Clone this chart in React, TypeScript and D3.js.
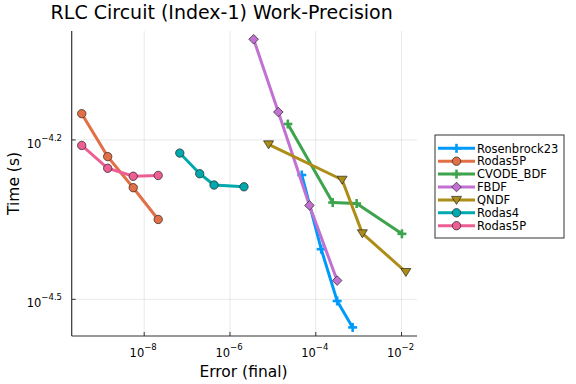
import * as d3 from "d3"

const W = 576
const H = 384
const PLOT = { left: 71.7, right: 417, top: 31, bottom: 336 }

const seriesNames = ["Rosenbrock23", "Rodas5P", "CVODE_BDF", "FBDF", "QNDF", "Rodas4", "Rodas5P"]
const seriesColors = ["#009afa", "#e26f46", "#3da44d", "#c271d2", "#ac8d18", "#00a9ad", "#ed5e93"]
const seriesMarkers = ["cross", "circle", "cross", "diamond", "dtriangle", "circle", "circle"]

// error (final), time (s)
const rosenbrockErr = [4.72e-5, 1.34e-4, 3.15e-4, 7.24e-4]
const rosenbrockTime = [5.42e-5, 3.93e-5, 3.14e-5, 2.8e-5]
const rodas5pErr = [3.5e-10, 1.41e-9, 5.55e-9, 2.12e-8]
const rodas5pTime = [7.07e-5, 5.87e-5, 5.13e-5, 4.47e-5]
const cvodeErr = [2.23e-5, 2.48e-4, 8.97e-4, 1.02e-2]
const cvodeTime = [6.76e-5, 4.81e-5, 4.79e-5, 4.2e-5]
const fbdfErr = [3.56e-6, 1.34e-5, 7.13e-5, 3.15e-4]
const fbdfTime = [9.76e-5, 7.12e-5, 4.75e-5, 3.43e-5]
const qndfErr = [7.94e-6, 4.11e-4, 1.22e-3, 1.26e-2]
const qndfTime = [6.19e-5, 5.31e-5, 4.21e-5, 3.56e-5]
const rodas4Err = [6.76e-8, 1.97e-7, 4.25e-7, 2.12e-6]
const rodas4Time = [5.96e-5, 5.45e-5, 5.19e-5, 5.15e-5]
const rodas5p2Err = [3.5e-10, 1.41e-9, 5.55e-9, 2.12e-8]
const rodas5p2Time = [6.16e-5, 5.58e-5, 5.39e-5, 5.41e-5]

const errs = [rosenbrockErr, rodas5pErr, cvodeErr, fbdfErr, qndfErr, rodas4Err, rodas5p2Err]
const times = [rosenbrockTime, rodas5pTime, cvodeTime, fbdfTime, qndfTime, rodas4Time, rodas5p2Time]

const xTickExps = ["-8", "-6", "-4", "-2"]
const yTickExps = ["-4.5", "-4.2"]

const FONT = "DejaVu Sans, sans-serif"

const Marker = ({ type, x, y, color }: { type: string; x: number; y: number; color: string }) => {
  if (type === "circle")
    return <circle cx={x} cy={y} r={4.2} fill={color} stroke="#222" strokeWidth={0.7} />
  if (type === "diamond")
    return (
      <path
        d={`M${x},${y - 4.8}L${x + 4.8},${y}L${x},${y + 4.8}L${x - 4.8},${y}Z`}
        fill={color}
        stroke="#222"
        strokeWidth={0.7}
      />
    )
  if (type === "dtriangle")
    return (
      <path
        d={`M${x - 5},${y - 3.5}L${x + 5},${y - 3.5}L${x},${y + 4.5}Z`}
        fill={color}
        stroke="#222"
        strokeWidth={0.7}
      />
    )
  // cross
  return (
    <g stroke={color} strokeWidth={2.6}>
      <line x1={x - 4.5} x2={x + 4.5} y1={y} y2={y} />
      <line x1={x} x2={x} y1={y - 4.5} y2={y + 4.5} />
    </g>
  )
}

export default function App() {
  const xScale = d3
    .scaleLog()
    .domain([Math.pow(10, -9.69), Math.pow(10, -1.64)])
    .range([PLOT.left, PLOT.right])
  const yScale = d3
    .scaleLog()
    .domain([Math.pow(10, -4.569), Math.pow(10, -3.995)])
    .range([PLOT.bottom, PLOT.top])

  const line = d3
    .line<[number, number]>()
    .x((d) => xScale(d[0]))
    .y((d) => yScale(d[1]))

  const legendX = 435
  const legendY = 135
  const rowH = 12.9

  return (
    <svg width={W} height={H} style={{ position: "absolute", left: 0, top: 0 }} fontFamily={FONT}>
      <rect width={W} height={H} fill="#fff" />
      <text x={221.7} y={19} textAnchor="middle" fontSize={19} fill="#000">
        RLC Circuit (Index-1) Work-Precision
      </text>

      {/* grid */}
      {xTickExps.map((e) => {
        const x = xScale(Math.pow(10, +e))
        return (
          <g key={"x" + e}>
            <line x1={x} x2={x} y1={PLOT.top} y2={PLOT.bottom} stroke="#000" opacity={0.08} />
            <line x1={x} x2={x} y1={PLOT.bottom} y2={PLOT.bottom - 4} stroke="#333" />
            <text x={x - 1} y={356.5} textAnchor="middle" fontSize={11.5} fill="#000">
              10
              <tspan dy={-6.5} fontSize={8.5}>
                {e.replace("-", "\u2212")}
              </tspan>
            </text>
          </g>
        )
      })}
      {yTickExps.map((e) => {
        const y = yScale(Math.pow(10, +e))
        return (
          <g key={"y" + e}>
            <line x1={PLOT.left} x2={PLOT.right} y1={y} y2={y} stroke="#000" opacity={0.08} />
            <line x1={PLOT.left} x2={PLOT.left + 4} y1={y} y2={y} stroke="#333" />
            <text x={62} y={y + 7.7} textAnchor="end" fontSize={11.5} fill="#000">
              10
              <tspan dy={-7} fontSize={8.5}>
                {e.replace("-", "\u2212")}
              </tspan>
            </text>
          </g>
        )
      })}

      {/* axes */}
      <line x1={PLOT.left} x2={PLOT.left} y1={PLOT.top} y2={PLOT.bottom} stroke="#333" strokeWidth={1.2} />
      <line x1={PLOT.left} x2={PLOT.right} y1={PLOT.bottom} y2={PLOT.bottom} stroke="#333" strokeWidth={1.2} />

      {/* series */}
      {seriesNames.map((name, i) => {
        const pts = errs[i].map((e, j) => [e, times[i][j]] as [number, number])
        return (
          <g key={"s" + i}>
            <path d={line(pts) || ""} fill="none" stroke={seriesColors[i]} strokeWidth={3} />
            {pts.map((p, j) => (
              <Marker key={j} type={seriesMarkers[i]} x={xScale(p[0])} y={yScale(p[1])} color={seriesColors[i]} />
            ))}
          </g>
        )
      })}

      {/* axis labels */}
      <text x={243.5} y={377} textAnchor="middle" fontSize={15.5} fill="#000">
        Error (final)
      </text>
      <text
        transform={`translate(18.5,${(PLOT.top + PLOT.bottom) / 2}) rotate(-90)`}
        textAnchor="middle"
        fontSize={15.5}
        fill="#000"
      >
        Time (s)
      </text>

      {/* legend */}
      <rect
        x={legendX}
        y={legendY}
        width={129}
        height={103}
        fill="#fff"
        stroke="#333"
        strokeWidth={1}
      />
      {seriesNames.map((name, i) => {
        const y = legendY + 13.3 + i * rowH
        return (
          <g key={"l" + i}>
            <line x1={legendX + 3} x2={legendX + 40} y1={y} y2={y} stroke={seriesColors[i]} strokeWidth={3} />
            <Marker type={seriesMarkers[i]} x={legendX + 21.5} y={y} color={seriesColors[i]} />
            <text x={legendX + 42} y={y + 4.2} fontSize={11.5} fill="#000">
              {name}
            </text>
          </g>
        )
      })}
    </svg>
  )
}
